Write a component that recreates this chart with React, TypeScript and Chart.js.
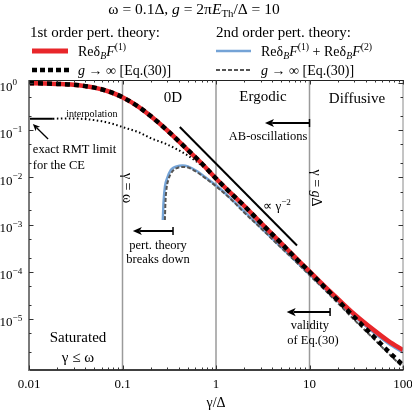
import React, { useEffect, useRef } from 'react';
import { Chart, registerables } from 'chart.js';

Chart.register(...registerables);

const X_MIN = 0.01;
const X_MAX = 100;
const Y_MIN = 8.3e-7;
const Y_MAX = 1.16;

// 1st order perturbation theory (red) and its g -> infinity limit (thick black dotted)
const firstOrderX = [0.01, 0.015, 0.02, 0.03, 0.04, 0.05, 0.07, 0.1, 0.15, 0.2, 0.3, 0.5, 0.7, 1, 1.5, 2, 3, 5, 7, 10, 15, 20, 30, 50, 70, 100];
const firstOrderY = [0.99, 0.98, 0.96, 0.92, 0.86, 0.8, 0.67, 0.5, 0.31, 0.2, 0.1, 0.038, 0.02, 0.0095, 0.0043, 0.0025, 0.0011, 4e-4, 2.05e-4, 1.02e-4, 4.6e-5, 2.7e-5, 1.28e-5, 5.6e-6, 3.4e-6, 2.2e-6];
const firstOrderLimitY = [0.99, 0.98, 0.96, 0.92, 0.86, 0.8, 0.67, 0.5, 0.31, 0.2, 0.1, 0.038, 0.02, 0.0095, 0.0043, 0.0025, 0.0011, 4e-4, 2.0e-4, 1.0e-4, 4.4e-5, 2.5e-5, 1.1e-5, 4e-6, 2.04e-6, 1.05e-6];

// 2nd order perturbation theory (blue) and its g -> infinity limit (grey dashed)
const secondOrderX = [0.27, 0.275, 0.285, 0.3, 0.33, 0.38, 0.44, 0.5, 0.63, 0.8, 1, 1.5, 2, 3, 5, 7, 10, 15, 20, 30, 50, 70, 100];
const secondOrderY = [0.00125, 0.003, 0.0065, 0.0095, 0.0145, 0.0172, 0.018, 0.0172, 0.0135, 0.0095, 0.0068, 0.0033, 0.0019, 0.00088, 3.3e-4, 1.75e-4, 8.8e-5, 4.1e-5, 2.4e-5, 1.15e-5, 4.9e-6, 3.0e-6, 1.95e-6];
const secondOrderLimitX = [0.284, 0.288, 0.297, 0.31, 0.34, 0.39, 0.45, 0.52, 0.63, 0.8, 1, 1.5, 2, 3, 5, 7, 10, 15, 20, 30, 50, 70, 100];
const secondOrderLimitY = [0.00125, 0.003, 0.0062, 0.009, 0.0133, 0.016, 0.0167, 0.0158, 0.0128, 0.0091, 0.0065, 0.0032, 0.0018, 0.00085, 3.2e-4, 1.7e-4, 8.5e-5, 3.9e-5, 2.2e-5, 9.7e-6, 3.6e-6, 1.85e-6, 9.5e-7];

// interpolation (thin dotted) and exact RMT limit for the CE
const interpX = [0.018, 0.026, 0.04, 0.06, 0.08, 0.1, 0.15, 0.2, 0.3, 0.5, 0.8, 1, 1.3];
const interpY = [0.175, 0.178, 0.172, 0.155, 0.135, 0.117, 0.09, 0.068, 0.05, 0.029, 0.0145, 0.0095, 0.0058];
const rmtX = [0.01, 0.018];
const rmtY = [0.175, 0.175];

// reference power law ~ gamma^-2
const powerLawX = [0.41, 7.35];
const powerLawY = [0.117, 3.6e-4];

// regime boundaries gamma = omega, Delta, g Delta
const regimeBoundaries = [0.1, 1, 10];

const xTickValues = [0.01, 0.1, 1, 10, 100];
const xTickLabels = ['0.01', '0.1', '1', '10', '100'];
const yTickExponents = [0, -1, -2, -3, -4, -5];

const FONT = '"Liberation Serif", "Times New Roman", serif';

type Seg = { t: string; i?: boolean; s?: 'sub' | 'sup' };

function richWidth(ctx: CanvasRenderingContext2D, segs: Seg[], size: number) {
  let w = 0;
  for (const sg of segs) {
    const fs = sg.s ? size * 0.7 : size;
    ctx.font = `${sg.i ? 'italic ' : ''}${fs}px ${FONT}`;
    w += ctx.measureText(sg.t).width;
  }
  return w;
}

function drawRich(ctx: CanvasRenderingContext2D, segs: Seg[], x: number, baseline: number, size: number, align: 'left' | 'center' = 'left') {
  let cx = x;
  if (align === 'center') cx = x - richWidth(ctx, segs, size) / 2;
  ctx.textAlign = 'left';
  ctx.textBaseline = 'alphabetic';
  for (const sg of segs) {
    const fs = sg.s ? size * 0.7 : size;
    ctx.font = `${sg.i ? 'italic ' : ''}${fs}px ${FONT}`;
    let by = baseline;
    if (sg.s === 'sup') by = baseline - size * 0.42;
    if (sg.s === 'sub') by = baseline + size * 0.22;
    ctx.fillText(sg.t, cx, by);
    cx += ctx.measureText(sg.t).width;
  }
}

function drawArrow(ctx: CanvasRenderingContext2D, x1: number, y1: number, x2: number, y2: number, lw: number, head: number, bar: boolean) {
  const ang = Math.atan2(y2 - y1, x2 - x1);
  ctx.save();
  ctx.strokeStyle = '#000';
  ctx.fillStyle = '#000';
  ctx.lineWidth = lw;
  ctx.beginPath();
  ctx.moveTo(x1, y1);
  ctx.lineTo(x2 - Math.cos(ang) * head * 0.8, y2 - Math.sin(ang) * head * 0.8);
  ctx.stroke();
  ctx.beginPath();
  ctx.moveTo(x2, y2);
  ctx.lineTo(x2 - Math.cos(ang) * head + Math.sin(ang) * head * 0.45, y2 - Math.sin(ang) * head - Math.cos(ang) * head * 0.45);
  ctx.lineTo(x2 - Math.cos(ang) * head * 0.75, y2 - Math.sin(ang) * head * 0.75);
  ctx.lineTo(x2 - Math.cos(ang) * head - Math.sin(ang) * head * 0.45, y2 - Math.sin(ang) * head + Math.cos(ang) * head * 0.45);
  ctx.closePath();
  ctx.fill();
  if (bar) {
    ctx.lineWidth = 1.5;
    ctx.beginPath();
    ctx.moveTo(x1 - Math.sin(ang) * 4, y1 + Math.cos(ang) * 4);
    ctx.lineTo(x1 + Math.sin(ang) * 4, y1 - Math.cos(ang) * 4);
    ctx.stroke();
  }
  ctx.restore();
}

const pts = (xs: number[], ys: number[]) => xs.map((x, i) => ({ x, y: ys[i] }));

const decorPlugin = {
  id: 'decor',
  afterDraw(chart: any) {
    const ctx: CanvasRenderingContext2D = chart.ctx;
    const xs = chart.scales.x;
    const ys = chart.scales.y;
    const { left, right, top, bottom } = chart.chartArea;
    const X = (v: number) => xs.getPixelForValue(v);
    const Y = (v: number) => ys.getPixelForValue(v);
    ctx.save();

    // frame
    ctx.lineCap = 'butt';
    ctx.strokeStyle = '#8a8a8a';
    ctx.lineWidth = 1;
    ctx.beginPath();
    ctx.moveTo(right, top);
    ctx.lineTo(right, bottom);
    ctx.stroke();
    ctx.strokeStyle = '#222';
    ctx.beginPath();
    ctx.moveTo(left, top + 0.5);
    ctx.lineTo(right, top + 0.5);
    ctx.stroke();
    ctx.strokeStyle = '#000';
    ctx.lineWidth = 1.5;
    ctx.beginPath();
    ctx.moveTo(left, bottom);
    ctx.lineTo(right + 0.5, bottom);
    ctx.stroke();
    ctx.strokeStyle = '#7a7a7a';
    ctx.lineWidth = 2;
    ctx.beginPath();
    ctx.moveTo(left, top);
    ctx.lineTo(left, bottom + 1);
    ctx.stroke();

    // ticks
    ctx.strokeStyle = '#333';
    ctx.lineWidth = 1;
    const xTick = (v: number, len: number) => {
      const p = Math.round(X(v)) + 0.5;
      ctx.beginPath();
      ctx.moveTo(p, bottom);
      ctx.lineTo(p, bottom - len);
      ctx.moveTo(p, top);
      ctx.lineTo(p, top + len);
      ctx.stroke();
    };
    const yTick = (v: number, len: number) => {
      const p = Math.round(Y(v)) + 0.5;
      ctx.beginPath();
      ctx.moveTo(left, p);
      ctx.lineTo(left + len, p);
      ctx.moveTo(right, p);
      ctx.lineTo(right - len, p);
      ctx.stroke();
    };
    for (let d = -2; d <= 1; d++) {
      for (let m = 2; m <= 9; m++) xTick(m * Math.pow(10, d), 2.5);
    }
    xTickValues.forEach((v) => xTick(v, 4.5));
    for (let d = -7; d <= 0; d++) {
      [2, 5].forEach((m) => {
        const v = m * Math.pow(10, d);
        if (v > Y_MIN && v < Y_MAX) yTick(v, 2.5);
      });
    }
    yTickExponents.forEach((e) => yTick(Math.pow(10, e), 4.5));

    // tick labels
    ctx.fillStyle = '#000';
    ctx.font = `13px ${FONT}`;
    ctx.textAlign = 'center';
    ctx.textBaseline = 'alphabetic';
    xTickValues.forEach((v, i) => ctx.fillText(xTickLabels[i], X(v), 388));
    yTickExponents.forEach((e) => {
      const p = Y(Math.pow(10, e));
      drawRich(ctx, [{ t: '10' }, { t: e === 0 ? '0' : '\u2212' + String(-e), s: 'sup' }], -0.5, p + 7.5, 13);
    });
    drawRich(ctx, [{ t: '\u03b3/\u0394' }], X(1), 407, 14, 'center');

    // regime labels
    ctx.fillStyle = '#000';
    drawRich(ctx, [{ t: '0D' }], X(0.347), Y(0.505) + 5, 15, 'center');
    drawRich(ctx, [{ t: 'Ergodic' }], X(3.18), Y(0.53) + 5, 15, 'center');
    drawRich(ctx, [{ t: 'Diffusive' }], X(32.2), Y(0.48) + 5, 15, 'center');
    drawRich(ctx, [{ t: 'Saturated' }], X(0.0334), Y(4.16e-6) + 5, 15, 'center');
    drawRich(ctx, [{ t: '\u03b3 \u2264 \u03c9' }], X(0.0334), Y(1.57e-6) + 5, 15, 'center');

    // small annotations
    drawRich(ctx, [{ t: 'interpolation' }], X(0.047), Y(0.22) + 3, 10, 'center');
    drawRich(ctx, [{ t: 'exact RMT limit' }], X(0.011), Y(0.04) + 4, 12.5, 'left');
    drawRich(ctx, [{ t: 'for the CE' }], X(0.011), Y(0.0183) + 4, 12.5, 'left');
    drawArrow(ctx, X(0.016), Y(0.065), X(0.011), Y(0.135), 1.3, 7, false);

    drawArrow(ctx, X(10), Y(0.142), X(3.34), Y(0.142), 2, 9, true);
    drawRich(ctx, [{ t: 'AB-oscillations' }], X(3.6), Y(0.075) + 4, 12.5, 'center');

    drawRich(ctx, [{ t: '\u221d \u03b3' }, { t: '\u22122', s: 'sup' }], X(4.49), Y(2.6e-3) + 5, 13, 'center');

    drawArrow(ctx, X(0.347), Y(7.3e-4), X(0.129), Y(7.3e-4), 2, 9, true);
    drawRich(ctx, [{ t: 'pert. theory' }], X(0.24), Y(3.7e-4) + 4, 12.5, 'center');
    drawRich(ctx, [{ t: 'breaks down' }], X(0.24), Y(1.87e-4) + 4, 12.5, 'center');

    drawArrow(ctx, X(16.6), Y(1.4e-5), X(5.7), Y(1.4e-5), 2, 9, true);
    drawRich(ctx, [{ t: 'validity' }], X(10.1), Y(7.5e-6) + 4, 12.5, 'center');
    drawRich(ctx, [{ t: 'of Eq.(30)' }], X(10.9), Y(3.6e-6) + 4, 12.5, 'center');

    // rotated boundary labels
    const rot = (segs: Seg[], x: number, y: number) => {
      ctx.save();
      ctx.translate(x, y);
      ctx.rotate(Math.PI / 2);
      drawRich(ctx, segs, 0, 5, 14, 'center');
      ctx.restore();
    };
    rot([{ t: '\u03b3 = \u03c9' }], X(0.115), Y(5.96e-3));
    rot([{ t: '\u03b3 = ' }, { t: 'g', i: true }, { t: '\u0394' }], X(12.0), Y(5.96e-3));

    // title
    drawRich(ctx, [
      { t: '\u03c9 = 0.1\u0394, ' }, { t: 'g', i: true }, { t: ' = 2\u03c0' }, { t: 'E', i: true }, { t: 'Th', s: 'sub' }, { t: '/\u0394 = 10' },
    ], 194, 14, 15.5, 'center');

    // legend
    drawRich(ctx, [{ t: '1st order pert. theory:' }], 30, 37, 15, 'left');
    drawRich(ctx, [{ t: '2nd order pert. theory:' }], 216, 37, 15, 'left');

    const legLine = (x1: number, x2: number, y: number, color: string, w: number, dash: number[]) => {
      ctx.save();
      ctx.strokeStyle = color;
      ctx.lineWidth = w;
      ctx.setLineDash(dash);
      ctx.beginPath();
      ctx.moveTo(x1, y);
      ctx.lineTo(x2, y);
      ctx.stroke();
      ctx.restore();
    };
    legLine(32, 68, 51, '#e8262a', 5, []);
    legLine(32, 70, 70, '#000', 4.5, [5, 3]);
    legLine(216, 251, 51, '#74a3d6', 2.5, []);
    legLine(216, 251, 70, '#555', 2, [4, 2]);

    const reF = (n: string): Seg[] => [{ t: 'Re\u03b4' }, { t: 'B', i: true, s: 'sub' }, { t: 'F', i: true }, { t: '(' + n + ')', s: 'sup' }];
    ctx.fillStyle = '#000';
    drawRich(ctx, reF('1'), 78, 56, 14, 'left');
    drawRich(ctx, [...reF('1'), { t: ' + ' }, ...reF('2')], 261, 56, 14, 'left');
    const limit: Seg[] = [{ t: 'g', i: true }, { t: ' \u2192 \u221e [Eq.(30)]' }];
    drawRich(ctx, limit, 78, 75, 14, 'left');
    drawRich(ctx, limit, 261, 75, 14, 'left');

    ctx.restore();
  },
};

export default function App() {
  const ref = useRef<HTMLCanvasElement>(null);
  useEffect(() => {
    if (!ref.current) return;
    const line = (data: any[], color: string, width: number, dash: number[], order: number, extra: any = {}) => ({
      data,
      borderColor: color,
      backgroundColor: color,
      borderWidth: width,
      borderDash: dash,
      pointRadius: 0,
      showLine: true,
      fill: false,
      order,
      cubicInterpolationMode: 'monotone',
      borderCapStyle: 'butt',
      ...extra,
    });
    const datasets: any[] = [
      line(pts(firstOrderX, firstOrderLimitY), '#000', 4.5, [5, 4], 1),
      line(pts(firstOrderX, firstOrderY), '#e8262a', 4.5, [], 2),
      line(pts(secondOrderLimitX, secondOrderLimitY), '#555', 2, [4, 2], 3),
      line(pts(secondOrderX, secondOrderY), '#74a3d6', 2.5, [], 4),
      line(pts(interpX, interpY), '#000', 2, [1.5, 2.5], 5),
      line(pts(rmtX, rmtY), '#000', 2, [], 6),
      line(pts(powerLawX, powerLawY), '#000', 2, [], 7),
      ...regimeBoundaries.map((b) => line([{ x: b, y: Y_MIN }, { x: b, y: Y_MAX }], '#9a9a9a', 1.5, [], 10)),
    ];
    const chart = new Chart(ref.current, {
      type: 'scatter',
      data: { datasets },
      options: {
        responsive: false,
        animation: false,
        devicePixelRatio: 1,
        layout: { padding: { left: 29, right: 9, top: 80, bottom: 41 } },
        plugins: { legend: { display: false }, tooltip: { enabled: false }, title: { display: false } },
        scales: {
          x: { type: 'logarithmic', min: X_MIN, max: X_MAX, display: false },
          y: { type: 'logarithmic', min: Y_MIN, max: Y_MAX, display: false },
        },
      },
      plugins: [decorPlugin],
    } as any);
    return () => chart.destroy();
  }, []);
  return (
    <div style={{ position: 'absolute', left: 0, top: 0, width: 412, height: 411, background: '#fff' }}>
      <canvas ref={ref} width={412} height={411} />
    </div>
  );
}
